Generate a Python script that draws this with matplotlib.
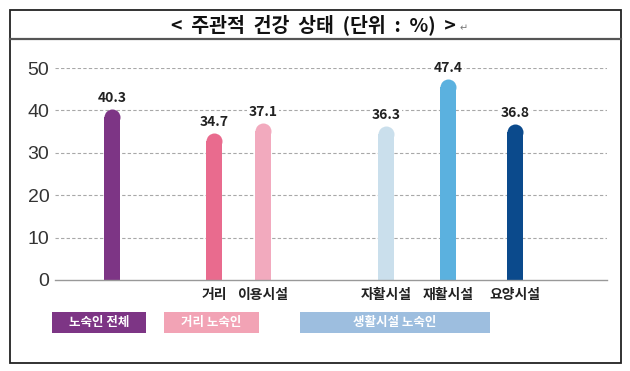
import matplotlib
matplotlib.use('Agg')
import matplotlib.pyplot as plt
from matplotlib.patches import Rectangle

plt.rcParams['font.family'] = ['Noto Sans CJK KR', 'DejaVu Sans']

# 데이터
categories = ['', '거리', '이용시설', '자활시설', '재활시설', '요양시설']
values = [40.3, 34.7, 37.1, 36.3, 47.4, 36.8]
colors = ['#7D3585', '#E96B8E', '#F2AABE', '#CADFEC', '#5BB1DF', '#0B4A8C']
groups = ['노숙인 전체', '거리 노숙인', '생활시설 노숙인']
group_colors = ['#7D3585', '#F2A3B5', '#9DBEDF']
yticks = [0, 10, 20, 30, 40, 50]

# 레이아웃 (픽셀 기준)
W, H = 630, 371
positions = [0, 2.08, 3.08, 5.59, 6.86, 8.22]
group_px = [(52, 146), (164, 259), (300, 490)]


def fx(px):
    return px / W


def fy(py):
    return 1 - py / H


fig = plt.figure(figsize=(W / 100, H / 100), dpi=100)

# 바깥 테두리 + 제목
fig.patches.append(Rectangle((fx(10), fy(363)), fx(611), 353 / H, transform=fig.transFigure,
                             fill=False, edgecolor='#222222', linewidth=1.3))
fig.lines.append(plt.Line2D([fx(10), fx(621)], [fy(39), fy(39)], transform=fig.transFigure,
                            color='#555555', linewidth=1.6))
fig.text(fx(313), fy(25), '<  주관적  건강  상태  (단위  :  %)  >', ha='center', va='center',
         fontsize=14, fontweight='bold', color='#111111')
fig.text(fx(460), fy(28), '↵', ha='left', va='center', fontsize=7, color='#777777',
         family=['DejaVu Sans'])

ax = fig.add_axes([fx(55), fy(280), (607 - 55) / W, 212 / H])
ax.set_xlim(-1.16, 10.1)
ax.set_ylim(0, 50)

for s in ['top', 'right', 'left']:
    ax.spines[s].set_visible(False)
ax.spines['bottom'].set_color('#999999')
ax.spines['bottom'].set_linewidth(1.0)
ax.set_yticks(yticks)
ax.set_yticklabels([str(t) for t in yticks], fontsize=14, color='#333333',
                   family=['Liberation Sans Narrow', 'Liberation Sans'])
ax.tick_params(axis='y', length=0, pad=4)
ax.tick_params(axis='x', length=0)
for t in yticks[1:]:
    ax.axhline(t, color='#a8a8a8', linewidth=0.8, linestyle=(0, (3, 2)), zorder=0)

# 둥근 막대: 사각형 + 위쪽 원
bar_px = 16
unit_y = 212 / 50  # px per 1 unit
r = bar_px / 2 / unit_y
width = bar_px / 49
for x, v, c in zip(positions, values, colors):
    ax.bar(x, v - r, width=width, color=c, zorder=2)
    ax.scatter([x], [v - r], s=(bar_px * 0.72) ** 2, color=c, marker='o', linewidths=0, zorder=2)
    ax.text(x, v + 2.6, f'{v}', ha='center', va='center', fontsize=10, fontweight='bold',
            color='#222222', zorder=3,
            bbox=dict(boxstyle='square,pad=0.1', facecolor='white', edgecolor='none'))

ax.set_xticks(positions)
ax.set_xticklabels(categories, fontsize=10, fontweight='bold', color='#222222')
ax.tick_params(axis='x', pad=6)

# 그룹 상자
for (x0, x1), g, c in zip(group_px, groups, group_colors):
    fig.patches.append(Rectangle((fx(x0), fy(333)), (x1 - x0) / W, 21 / H,
                                 transform=fig.transFigure, facecolor=c, edgecolor='none'))
    fig.text(fx((x0 + x1) / 2), fy(322.5), g, ha='center', va='center', fontsize=9,
             color='white', fontweight='bold')

fig.savefig('out.png', dpi=100)
